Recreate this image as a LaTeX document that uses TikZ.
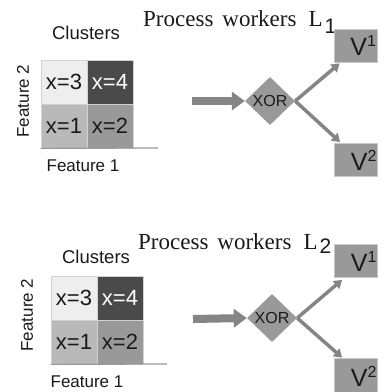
\documentclass[tikz,border=0pt]{standalone}
\usepackage{fontspec}
\setmainfont{Liberation Serif}
\setsansfont{Liberation Sans}
\usetikzlibrary{shapes.geometric,arrows.meta}
\definecolor{cthree}{HTML}{EEEEEE}
\definecolor{cfour}{HTML}{4A4A4A}
\definecolor{cone}{HTML}{B9B9B9}
\definecolor{ctwo}{HTML}{999999}
\definecolor{cellline}{HTML}{D2D2D2}
\definecolor{boxfill}{HTML}{999999}
\definecolor{boxline}{HTML}{C8C8C8}
\definecolor{arrowgray}{HTML}{858585}
\definecolor{txt}{HTML}{1A1A1A}
\tikzset{
  cell/.style={draw=cellline, line width=0.8pt, minimum width=46pt, minimum height=44pt, inner sep=0pt,
    text=txt, font=\sffamily\fontsize{22}{22}\selectfont},
  axisline/.style={draw=ctwo, line width=1.2pt},
  label/.style={text=txt, inner sep=0pt, font=\sffamily\fontsize{17}{17}\selectfont},
  clusterlabel/.style={text=txt, inner sep=0pt, font=\sffamily\fontsize{18.5}{18.5}\selectfont},
  title/.style={text=txt, inner sep=0pt, anchor=base west, font=\fontsize{23}{23}\selectfont},
  xorbox/.style={diamond, fill=boxfill, minimum width=50pt, minimum height=48pt, inner sep=0pt,
    text=txt, font=\sffamily\fontsize{16}{16}\selectfont},
  vbox/.style={fill=boxfill, draw=boxline, line width=0.8pt, minimum width=43pt, minimum height=33pt,
    inner sep=0pt, text width=41pt, align=right, text=txt, font=\sffamily\fontsize{25}{25}\selectfont},
  bigarrow/.style={draw=arrowgray, line width=8pt, -{Triangle[length=13pt,width=18pt]}},
  smallarrow/.style={draw=arrowgray, line width=3.5pt, -{Triangle[length=8pt,width=10pt]}}
}
\newcommand{\supnum}[1]{\raisebox{9pt}{\fontsize{16}{16}\selectfont #1}}
\begin{document}
\begin{tikzpicture}[x=1pt,y=-1pt]
\useasboundingbox (0,0) rectangle (386,392);
\clip (0,0) rectangle (386,392);
\fill[white] (0,0) rectangle (386,392);

% ---------- top panel ----------
\node[clusterlabel] (cl1) at (86,33) {Clusters};
\node[cell, fill=cthree] (a3) at (64,82) {x=3};
\node[cell, fill=cfour, text=white] (a4) at (110,82) {x=4};
\node[cell, fill=cone] (a1) at (64,126) {x=1};
\node[cell, fill=ctwo] (a2) at (110,126) {x=2};
\coordinate (ax1) at (158,148);
\draw[axisline] (a1.south west) -- (ax1);
\node[label, rotate=90] (f2a) at (23,101) {Feature 2};
\node[label] (f1a) at (83,166) {Feature 1};

\node[title] (t1) at (143,26) {Process\hspace{9pt}workers\hspace{12pt}L\hspace{2pt}\raisebox{-7pt}{\sffamily\fontsize{21}{21}\selectfont 1}};

\node[xorbox] (x1) at (270,101) {XOR};
\node[vbox] (v1a) at (355.5,45.5) {V\supnum{1}};
\node[vbox] (v2a) at (356,160) {V\supnum{2}};
\coordinate (in1) at (192,101);
\draw[bigarrow] (in1) -- (x1.west);
\draw[smallarrow] (x1.east) -- ([shift={(6pt,-1pt)}]v1a.south west);
\draw[smallarrow] (x1.east) -- ([shift={(6pt,1pt)}]v2a.north west);

% ---------- bottom panel ----------
\node[clusterlabel] (cl2) at (96,257) {Clusters};
\node[cell, fill=cthree] (b3) at (74,298) {x=3};
\node[cell, fill=cfour, text=white] (b4) at (120,298) {x=4};
\node[cell, fill=cone] (b1) at (74,342) {x=1};
\node[cell, fill=ctwo] (b2) at (120,342) {x=2};
\coordinate (ax2) at (167,364);
\draw[axisline] (b1.south west) -- (ax2);
\node[label, rotate=90] (f2b) at (27,315) {Feature 2};
\node[label] (f1b) at (87,382) {Feature 1};

\node[title] (t2) at (138,249) {Process\hspace{9pt}workers\hspace{12pt}L\hspace{2pt}\raisebox{-4pt}{\sffamily\fontsize{21}{21}\selectfont 2}};

\node[xorbox] (x2) at (272,318) {XOR};
\node[vbox] (v1b) at (356,261) {V\supnum{1}};
\node[vbox, minimum height=36pt] (v2b) at (356,376) {V\supnum{2}};
\coordinate (in2) at (193,319);
\draw[bigarrow] (in2) -- (x2.west);
\draw[smallarrow] (x2.east) -- ([shift={(8pt,-2pt)}]v1b.south west);
\draw[smallarrow] (x2.east) -- ([shift={(8pt,0pt)}]v2b.north west);
\end{tikzpicture}
\end{document}
